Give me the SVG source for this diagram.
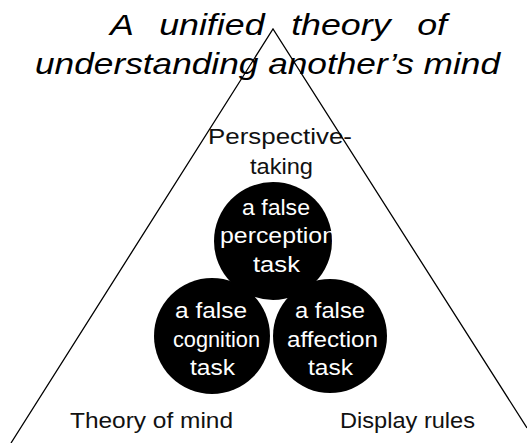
<svg xmlns="http://www.w3.org/2000/svg" width="527" height="443" viewBox="0 0 527 443">
  <style>
    .title { font-family: "Liberation Sans", Arial, sans-serif; font-style: italic; font-size: 30px; fill: #000; }
    .lbl { font-family: "Liberation Sans", Arial, sans-serif; font-size: 22px; fill: #111; }
    .in { font-family: "Liberation Sans", Arial, sans-serif; font-size: 22px; fill: #fff; }
    .disc { fill: #000; }
    .edge { stroke: #000; stroke-width: 1.3; fill: none; }
  </style>
  <rect x="0" y="0" width="527" height="443" fill="#fff"/>

  <g id="title">
    <text class="title" x="110" y="35" textLength="337" lengthAdjust="spacingAndGlyphs" word-spacing="14">A unified theory of</text>
    <text class="title" x="35" y="74" textLength="465" lengthAdjust="spacingAndGlyphs">understanding another’s mind</text>
  </g>

  <g id="perspective-taking">
    <text class="lbl" x="208" y="144" textLength="144" lengthAdjust="spacingAndGlyphs">Perspective-</text>
    <text class="lbl" x="250" y="174" textLength="63" lengthAdjust="spacingAndGlyphs">taking</text>
  </g>

  <g id="theory-of-mind">
    <text class="lbl" x="70" y="428" textLength="163" lengthAdjust="spacingAndGlyphs">Theory of mind</text>
  </g>

  <g id="display-rules">
    <text class="lbl" x="340" y="428" textLength="135" lengthAdjust="spacingAndGlyphs">Display rules</text>
  </g>

  <g id="false-cognition">
    <circle class="disc" cx="212" cy="336" r="58"/>
    <text class="in" x="175" y="318" textLength="72" lengthAdjust="spacingAndGlyphs">a false</text>
    <text class="in" x="173" y="347" textLength="87" lengthAdjust="spacingAndGlyphs">cognition</text>
    <text class="in" x="190" y="375" textLength="45" lengthAdjust="spacingAndGlyphs">task</text>
  </g>

  <g id="false-affection">
    <circle class="disc" cx="330" cy="336" r="57"/>
    <text class="in" x="295" y="318" textLength="70" lengthAdjust="spacingAndGlyphs">a false</text>
    <text class="in" x="287" y="347" textLength="91" lengthAdjust="spacingAndGlyphs">affection</text>
    <text class="in" x="308" y="375" textLength="45" lengthAdjust="spacingAndGlyphs">task</text>
  </g>

  <g id="false-perception">
    <circle class="disc" cx="273" cy="241" r="59"/>
    <text class="in" x="242" y="215" textLength="68" lengthAdjust="spacingAndGlyphs">a false</text>
    <text class="in" x="220" y="243" textLength="116" lengthAdjust="spacingAndGlyphs">perception</text>
    <text class="in" x="253" y="272" textLength="47" lengthAdjust="spacingAndGlyphs">task</text>
  </g>

  <g id="connectors">
    <polyline class="edge" points="11,443 273,29 527,428"/>
  </g>
</svg>
